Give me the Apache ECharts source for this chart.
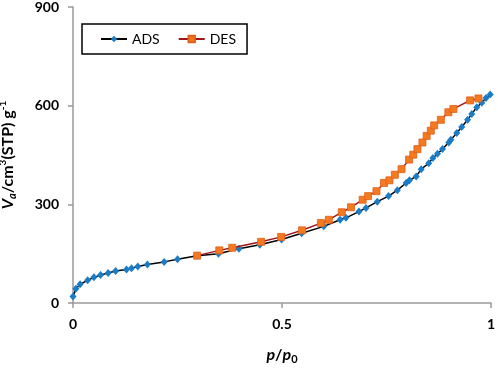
<!DOCTYPE html>
<html>
<head>
<meta charset="utf-8">
<script src="https://cdn.jsdelivr.net/npm/echarts@6/dist/echarts.min.js"></script>
<style>
  html, body { margin: 0; padding: 0; background: #fff; }
  #chart { width: 498px; height: 372px; }
</style>
</head>
<body>
<div id="chart"></div>
<script>
// adsorption branch (p/p0, Va)
var adsX = [0.000, 0.007, 0.017, 0.035, 0.050, 0.066, 0.084, 0.102, 0.128, 0.140, 0.155, 0.178, 0.218, 0.250,
    0.297, 0.348, 0.397, 0.447, 0.499, 0.547, 0.600, 0.639, 0.653, 0.684, 0.701, 0.728, 0.755, 0.776,
    0.797, 0.805, 0.821, 0.833, 0.851, 0.861, 0.872, 0.884, 0.899, 0.904, 0.918, 0.930, 0.944, 0.954,
    0.966, 0.978, 0.988, 0.998];
var adsY = [20, 43, 57, 69, 78, 85, 91, 97, 102, 106, 111, 117, 125, 133,
    144, 150, 165, 177, 193, 212, 233, 253, 259, 278, 289, 308, 325, 343,
    365, 373, 385, 407, 425, 441, 454, 468, 488, 496, 517, 535, 557, 575,
    595, 609, 623, 634];
// desorption branch
var desX = [0.297, 0.350, 0.381, 0.450, 0.498, 0.548, 0.593, 0.612, 0.643, 0.665, 0.693, 0.706, 0.726,
    0.744, 0.757, 0.770, 0.786, 0.804, 0.814, 0.824, 0.836, 0.846, 0.856, 0.864, 0.880, 0.898,
    0.910, 0.950, 0.970];
var desY = [144, 160, 168, 186, 201, 221, 243, 253, 276, 291, 314, 325, 340,
    365, 373, 390, 407, 436, 451, 468, 488, 508, 524, 540, 557, 580,
    590, 616, 622];
var xTicks = [0, 0.5, 1];
var yTicks = [0, 300, 600, 900];

function zip(xs, ys) {
    return xs.map(function(x, i) { return [x, ys[i]]; });
}

var font = 'Lato, "Liberation Sans", sans-serif';
var myChart = echarts.init(document.getElementById('chart'));

// rich styles shared by both axis names
var nameRich = {
    i: { fontSize: 16, fontWeight: 'bold', fontStyle: 'italic', color: '#000', lineHeight: 20, fontFamily: font },
    b: { fontSize: 16, fontWeight: 'bold', color: '#000', lineHeight: 20, fontFamily: font },
    sub: { fontSize: 11, fontWeight: 'bold', color: '#000', verticalAlign: 'bottom', lineHeight: 11, fontFamily: font },
    isub: { fontSize: 11, fontWeight: 'bold', fontStyle: 'italic', color: '#000', verticalAlign: 'bottom', lineHeight: 11, fontFamily: font },
    sup: { fontSize: 10, fontWeight: 'bold', color: '#000', verticalAlign: 'top', lineHeight: 11, fontFamily: font }
};

var option = {
    animation: false,
    textStyle: { fontFamily: font },
    grid: { left: 73, right: 7, top: 7, bottom: 69, outerBoundsMode: 'none' },
    legend: {
        left: 82, top: 24,
        padding: [8, 11, 8, 18],
        itemGap: 18,
        itemWidth: 26, itemHeight: 8,
        borderColor: '#000', borderWidth: 1.5,
        textStyle: { fontSize: 14, color: '#000', fontFamily: font },
        data: ['ADS', 'DES']
    },
    xAxis: {
        type: 'value',
        min: 0, max: 1, interval: 0.5,
        axisLine: { lineStyle: { color: '#9a9a9a', width: 1.5 } },
        axisTick: { length: 5, lineStyle: { color: '#9a9a9a', width: 1.5 } },
        splitLine: { show: false },
        axisLabel: {
            margin: 14, fontSize: 14, fontWeight: 'bold', color: '#000',
            formatter: function(v) { return xTicks.indexOf(v) >= 0 ? String(v) : ''; }
        },
        name: '{i|p}{b|/}{i|p}{sub|0}',
        nameLocation: 'middle',
        nameGap: 42,
        nameTextStyle: { rich: nameRich }
    },
    yAxis: {
        type: 'value',
        min: 0, max: 900, interval: 300,
        axisLine: { show: true, lineStyle: { color: '#9a9a9a', width: 1.5 } },
        axisTick: { show: true, length: 5, lineStyle: { color: '#9a9a9a', width: 1.5 } },
        splitLine: { show: false },
        axisLabel: {
            margin: 14, fontSize: 14, fontWeight: 'bold', color: '#000',
            formatter: function(v) { return yTicks.indexOf(v) >= 0 ? String(v) : ''; }
        },
        name: '{i|V}{isub|a}{b|/cm}{sup|3}{b|(STP) g}{sup|-1}',
        nameLocation: 'middle',
        nameGap: 55,
        nameTextStyle: { rich: nameRich }
    },
    series: [
        {
            name: 'ADS',
            type: 'line',
            data: zip(adsX, adsY),
            symbol: 'diamond',
            symbolSize: [7, 8],
            showAllSymbol: true,
            lineStyle: { color: '#000', width: 1.5 },
            itemStyle: { color: '#1b7cc6', borderWidth: 0 },
            z: 2
        },
        {
            name: 'DES',
            type: 'line',
            data: zip(desX, desY),
            symbol: 'rect',
            symbolSize: 7,
            showAllSymbol: true,
            lineStyle: { color: '#a0151a', width: 1.5 },
            itemStyle: { color: '#f47a20', borderColor: '#e0601a', borderWidth: 0.8 },
            z: 3
        }
    ]
};

myChart.setOption(option);
</script>
</body>
</html>
